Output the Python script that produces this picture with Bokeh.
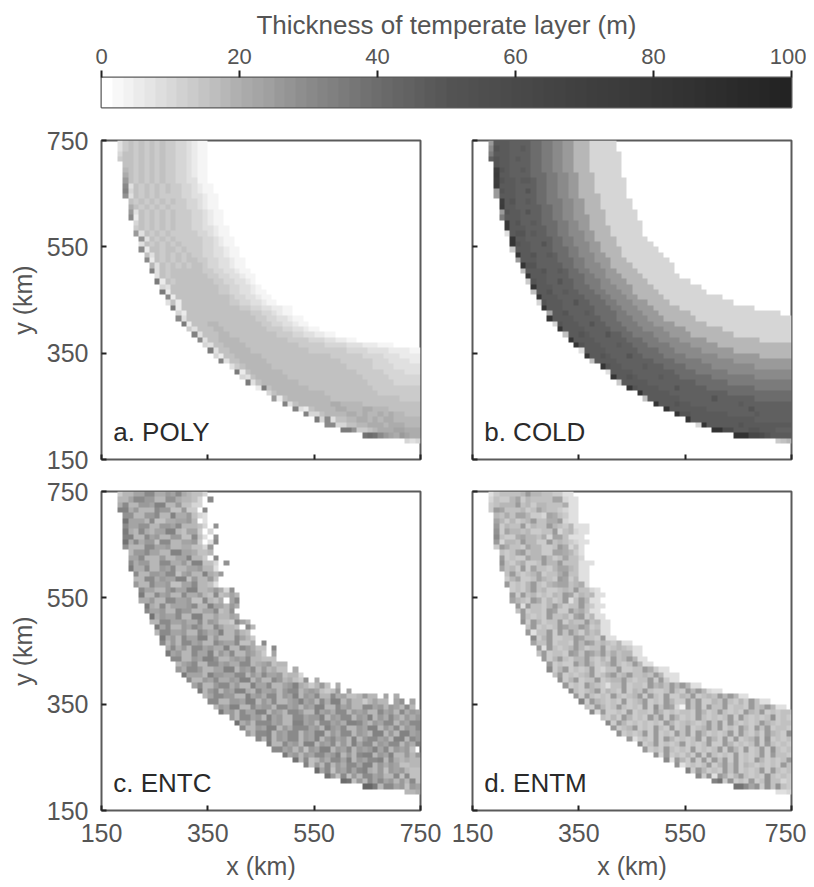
import numpy as np
from bokeh.plotting import figure
from bokeh.layouts import column, row
from bokeh.models import LinearColorMapper, FixedTicker
from bokeh.core.properties import value
from bokeh.embed import file_html
from bokeh.resources import INLINE

LEVEL_M = 2.5  # one base-36 character = 2.5 m of temperate ice
TICKS = [150, 350, 550, 750]
CBAR_TICKS = [0, 20, 40, 60, 80, 100]
CMAP_M = [0, 10, 20, 30, 40, 50, 60, 70, 80, 90, 100]
CMAP_GRAY = [255, 214, 172, 138, 108, 85, 74, 64, 56, 46, 35]
NAMES = ["a. POLY", "b. COLD", "c. ENTC", "d. ENTM"]

# first ice-covered column of each row, counted from x = 150 km; row 0 is y = 750 km
FIRST_COL = [3,3,3,3,4,4,4,4,4,4,4,5,5,5,5,6,6,6,7,7,7,8,8,9,9,10,10,11,11,12,12,13,14,14,15,16,17,18,19,20,
             21,22,24,25,26,27,29,31,32,34,36,38,40,42,45,49,57]

POLY = [
"35656565655443211","35656565655443211","46656565655443211","56656565655443211",
"6656565655443211","7656565655443211","8656565655443211","a656565655443311",
"c3656565655443211","d4656565655443211","b36565655554433211","65656565655443211",
"86565656555443211","a36565656555443211","c26565656555443211","46565656555443211",
"565656565554433211","a36565655555443211","b36565655555443211","365656565555443211",
"c266566565554433211","636565656554433211","c265656566554433211","736565656654433211",
"d365666666554433211","3656666666554433211","e265666666655443321","4366666666655443321",
"e2666666666554433211","c2666666666654433211","362666666666554433211","e2666666666665544332211",
"4266666666666655443211","c36666666666666554433211","e26667766666666554433211","5366677666666665554433211",
"d36667766666666655544332211","c36677776666666665555444332211","436677776666666666555554444333222111",
"e366777766666666666555555544443333222211","426677777666666666666655555544443332222",
"d3667777766666666666666555555444333322","356777776666666666666655555444433333",
"e2677777766666666666666555554444333","4367777776666666666666655555444444",
"e36777777766666666666665555544444","2e67777777666666666666555555555","46777777777666666666655555555",
"a2677777777666666666666655555","d3677777788777766666666666","d32677778877788777666666",
"d446777788787787877666","e4c36677887878877777","cc4466778887888777",
"eeb556788899888","fgfca98a988","434",
]

COLD_RUNS = [
"a1 j3 i4 g2 e2 c2 a2 73 45","c1 k1 j2 i2 j1 i1 g2 e2 c2 a2 73 45","e1 j3 i4 g2 e2 c2 a2 73 46","i1 k1 j2 i1 j1 i2 g2 e2 c2 a2 73 46",
"k1 j2 i4 g2 e2 c2 a2 73 46","t1 k1 j1 i2 j1 i1 g2 e2 c2 a2 73 46","u1 j2 i4 g3 e2 c2 a2 73 45","t1 k1 j2 i1 j2 i1 g2 e2 c2 a2 73 46",
"u1 j3 i4 g2 e2 c2 a2 73 46","a1 k1 j2 i2 k1 i1 g2 e2 c2 a2 73 46","a1 j3 i4 g2 e2 c2 a2 74 45","t1 j1 k1 i2 j1 i1 g2 e3 c2 a2 73 46",
"u1 j2 i5 g2 e2 c2 a2 73 46","a1 k1 j2 i1 k1 i2 g2 e2 c2 a2 74 46","e1 j3 i4 g2 e2 c2 a3 73 46","w1 j1 k1 i2 j1 i1 g3 e2 c2 a2 73 47",
"w1 j3 i4 g2 e2 c2 a2 74 46","31 j1 k2 i1 j1 i2 g2 e2 c3 a2 73 46","x1 j2 i5 g2 e2 c2 a2 74 46","x1 k1 j2 i2 k1 i1 g2 e2 c3 a2 73 47",
"51 j3 i4 g3 e2 c2 a2 74 47","x1 j2 k1 i2 j1 i1 g2 e2 c3 a2 73 48","a1 j3 i4 g3 e2 c2 a3 73 48","x1 k2 i5 g2 e2 c3 a2 74 48",
"61 j3 k1 i2 j1 i1 g2 e2 c3 a2 74 47","x1 j3 i4 g3 e2 c2 a3 74 47","51 k1 j2 i2 k1 i2 g2 e3 c2 a3 74 48","x1 j3 i4 g3 e2 c3 a3 74 49",
"61 j2 k1 i2 j1 i2 g3 e2 c3 a2 75 49","x1 j3 i5 g3 e2 c3 a2 75 411","41 k1 j3 i2 k1 i2 g3 e2 c3 a3 74 412","x1 j3 i6 g3 e2 c3 a3 75 414",
"91 j2 k1 i3 j1 i1 g4 e2 c3 a3 76 417","x1 j4 i5 g3 e3 c3 a3 76 418","41 k1 j3 i2 k1 i2 g3 e3 c3 a4 76 416","x1 j4 i5 g3 e3 c4 a4 77 413",
"61 j2 k1 j1 i3 k1 i2 g2 e4 c3 a4 78 411","x1 j4 i6 g3 e3 c4 a5 710 46","x1 k1 j3 i3 j1 i2 g3 e4 c4 a5 714","31 j4 i6 g4 e3 c5 a6 711",
"x1 j2 k1 j1 i3 k1 i2 g4 e4 c6 a8 76","61 j4 i7 g4 e5 c6 a11","x1 k1 j2 i4 j1 i3 g4 e5 c8 a7","31 j4 i8 g4 e6 c12",
"x1 j2 k1 j1 i4 j1 i3 g6 e8 c7","51 j5 i9 g6 e12","x1 k1 j4 i3 k1 i5 g9 e7","x1 j5 i11 g12",
"61 j6 i6 k1 i7 g7","x1 j3 k1 j2 i9 j1 i9","x1 j7 i8 k1 i7","x1 k2 j7 i5 j1 i6",
"x1 j12 i7","41 x1 j6 k1 j9","y2 n2 j3 k2 j3 i3","y3 p2 n1 k1 j4","51 61 71",
]

ENTC = [
"57799cc88a9c87664","779ccaa77bb87764.c","8c77aa9dd77a6644.","dd8a777caa66a55.c.",
"bb77aac77d88a643","f9997c668899a7.3","c99bb77aa9c77764.b","e87c8799dd76995.4",
"dd77c9a77aa66c63.b","f8c8aa6cc7799a5.3c","b777cc99a7788664a","7aac9977dd998667.",
"99c777a7799d775.c","c8aa77cc88a7dd664.b","e88c77a9c7799a773","c77aa9cc69a77d87a",
"77cc8a99dd6a77a6","a77c99a6699c7763","c9977ac99dd778a84b","e77c9a77c88a76c6797",
"88a77cc99a66c768.9c","e87c7999ac77d997a8","c99a77caa7799c67b","f8a99c77dd7797798.",
"77cc99a88c7a9665c97","e9c77a9ca77c9776.c7","7cc99a77ca89d77a76","e8a7c99dd7a777c975",
"c7a7cc9a77ca99c668.c","8c8a7cc9a88d77ca866.c","e9a77c99d7a8c77a975.9","cc77a9ddb779a9c77666",
"79ac77cc9a88cc789a677","a8cca7799dd7a9c7a7866.8","e9997daa99cc7a8c99a6774.","c77a9c88a9dd7a77ca7865b.8",
"9c77acc8a77d99c779ad8757a6.8","e7ac7a9dd87c99a7acc79a9656a.9","79ccaa77d9a8cc7a9d7a9c77c89667a77.9.8",
"cc77aa9dd7a8c779ad9a7c8dd7a7757977.9b.9.","7a9dd77c9aa7cc9a7a9dd77c9a77cc9a7a97c7",
"e9a7c99dd7a97cca77d9a8cc7a9a77c9a7c8a9","a7cc9a7d9a77cc9aad7a9cc7a9d7a8c97a8a","f8a7ccc9a77dd9a7cc9a8ddc97a9cc7a9cc",
"c77a9dd7a8ccc9a7da9c77a9dd7a8c7a9c","a7ccd7a9cc7a9dd7a8cc7a97dd7a7dd9a","c7d7a9cc7a9d7ac9a7d7acc9a7dd7ca",
"e77c9a7dd7a9c7a7d9cc7a9cc7a8d","cc9a7a6a9dd7a9c7a9ad9c7a9a6","e9a7a9cc9ad7a7cdd7a9d77a7a",
"f7c67a8cc9d7a9ccd7c87877","d6a7c7a8cc9dd7a8a96677","g9c6a9c9cd87a6a9a766","fa6c6a7cc9a77c6c66",
"gf6a7c9c9a7a7c6","hhe7cc9a6a9a","778",
]

ENTM = [
"3566667a77665533","46557957666699433","56777a67577666833","5a966675697665433",
"7686997554986533","9757567a6688a433","a5766a5766a7657333","b5977675566a467433",
"c6558977684996333","a4776a7755a6765433","5a8665977556a8463","6569a67755998753",
"a5655977a7569664","b6578556a77a666333","9675a596657997633","6a656795668a6633",
"5795569765a95733","a5657a6578996783","5657a6755676a6643","a5a6756576a9576733",
"9765a85756a36a733","a3a6657a7566a6533","6a5665a955a78633","a6565a66759a5733",
"b5a7566a5766a6733","6a5656a977a85633","a366a5a6a7586733","c57a5566a9665a33",
"966a5665a7a96765733","a3a6567a7566a5676533","6a5665a96a97a6867733","a57a6577a6575a67a733",
"a5655a7a7567a656a733","c57a5656a5466a5566a8533","6a56567a568a67a6676a7333","b57a566a5677a6566a5a533",
"a565a765366a5665a786a7a733","c6567a5765a576a6556a65a7a7433","a5a6565a6567a5a65a5576a5676a7a733",
"d5a76565a567a565a755a6a5576a6575a633","65a756a6565a5b6a941a6a5a66a5665a67a733",
"c4a5565a5665a7565665a756a6565a76a56566","6575a7565a6a5a7565a65656a5a65656b565","c5a75656565a7567656a6a5a65656a76566",
"a567a565a65a56a567a6a565a75a6a5665","b5656a5a565a6a5a75656a5a6575a765b","a3565a5a75656a5a75a5a567a5b5656",
"c56a5656a5656a55a75656a5a6565","a565a6565a5656a5a75a56a5b656","b4a56575a5a6565a5656a5a665",
"c3a75a5a5a6a5a565a75656a","b35656a57a6a57656565a6","d5a7565a6a5656a5a656","c5b3a857a6565b6565",
"df5b565a56b6645","ffc9b5b6b65","334",
]

def to_grid(rows):
    out = np.full((60, 60), np.nan)
    for i, text in enumerate(rows):
        for j, ch in enumerate(text):
            col = FIRST_COL[i] + j
            if ch != "." and col < 60:
                out[i, col] = int(ch, 36) * LEVEL_M
    return np.flipud(out)

COLD = ["".join(t[0] * int(t[1:]) for t in r.split()) for r in COLD_RUNS]
grids = [to_grid(POLY), to_grid(COLD), to_grid(ENTC), to_grid(ENTM)]

levels = np.linspace(0, 100, 256)
grays = np.interp(levels, CMAP_M, CMAP_GRAY).astype(int)
palette = ["#%02x%02x%02x" % (g, g, g) for g in grays]
mapper = LinearColorMapper(palette=palette, low=0, high=100, nan_color="rgba(0,0,0,0)")

FONT = "Liberation Sans"
TXT = "#555555"
EDGE = "#5a5a5a"

def panel(idx, grid, left, right, top, bottom, show_x, show_y):
    p = figure(frame_width=319, frame_height=319, x_range=(150, 750), y_range=(150, 750),
               output_backend="svg", toolbar_location=None, tools="",
               min_border_left=left, min_border_right=right, min_border_top=top, min_border_bottom=bottom)
    p.image(image=[grid], x=150, y=150, dw=600, dh=600, color_mapper=mapper)
    p.text(x=[172], y=[201], text=[NAMES[idx]], text_font=value(FONT), text_font_size="26px",
           text_color="#2a2a2a", text_baseline="alphabetic", text_align="left")
    p.grid.visible = False
    p.outline_line_color = EDGE
    p.outline_line_width = 2
    p.outline_line_alpha = 1
    for ax, show, title in ((p.xaxis[0], show_x, "x (km)"), (p.yaxis[0], show_y, "y (km)")):
        ax.ticker = FixedTicker(ticks=TICKS)
        ax.axis_line_color = None
        ax.major_tick_in = 5
        ax.major_tick_out = 0
        ax.major_tick_line_color = "#222222"
        ax.major_tick_line_width = 2
        ax.minor_tick_line_color = None
        if show:
            ax.axis_label = title
            ax.axis_label_text_font = FONT
            ax.axis_label_text_font_style = "normal"
            ax.axis_label_text_font_size = "25px"
            ax.axis_label_text_color = TXT
            ax.major_label_text_font = FONT
            ax.major_label_text_font_size = "25px"
            ax.major_label_text_color = TXT
            ax.major_label_standoff = 13
            ax.axis_label_standoff = 7
        else:
            ax.major_label_overrides = {t: "" for t in TICKS}
            ax.major_label_text_font_size = "0px"
            ax.major_label_standoff = 0
    return p

cb = figure(frame_width=690, frame_height=30, x_range=(0, 100), y_range=(0, 1),
            output_backend="svg", toolbar_location=None, tools="", x_axis_location="above",
            min_border_left=101, min_border_right=15, min_border_top=77, min_border_bottom=17)
cb.image(image=[np.linspace(0, 100, 64)[None, :]], x=0, y=0, dw=100, dh=1, color_mapper=mapper)
cb.grid.visible = False
cb.yaxis.visible = False
cb.outline_line_color = EDGE
cb.outline_line_width = 2
ax = cb.xaxis[0]
ax.ticker = FixedTicker(ticks=CBAR_TICKS)
ax.axis_line_color = None
ax.major_tick_in = 0
ax.major_tick_out = 7
ax.major_tick_line_color = "#222222"
ax.major_tick_line_width = 2
ax.minor_tick_line_color = None
ax.major_label_text_font = FONT
ax.major_label_text_font_size = "22px"
ax.major_label_text_color = TXT
ax.major_label_standoff = 7
ax.axis_label = "Thickness of temperate layer (m)"
ax.axis_label_text_font = FONT
ax.axis_label_text_font_style = "normal"
ax.axis_label_text_font_size = "26px"
ax.axis_label_text_color = TXT
ax.axis_label_standoff = 6

a = panel(0, grids[0], 101, 26, 16, 16, False, True)
b = panel(1, grids[1], 26, 15, 16, 16, False, False)
c = panel(2, grids[2], 101, 26, 16, 70, True, True)
d = panel(3, grids[3], 26, 15, 16, 70, True, False)

page = column(cb, row(a, b, spacing=0), row(c, d, spacing=0), spacing=0)
open("out.html", "w").write(file_html(page, INLINE))
